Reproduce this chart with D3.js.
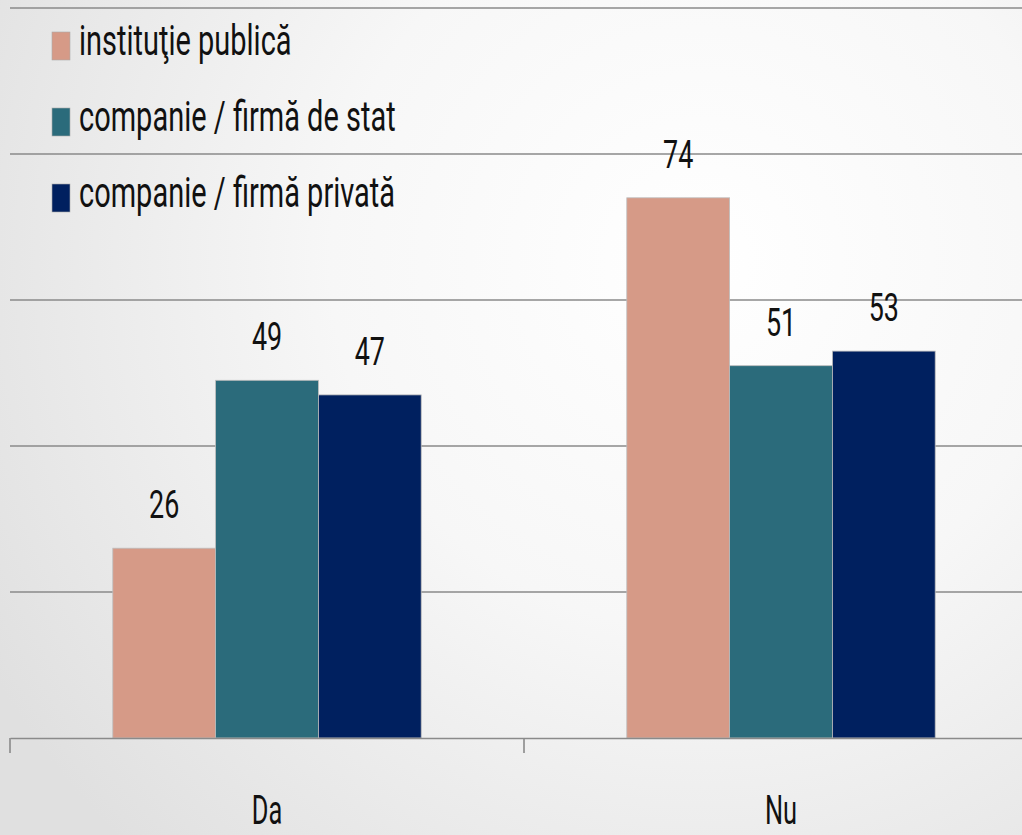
<!DOCTYPE html>
<html>
<head>
<meta charset="utf-8">
<script src="https://cdn.jsdelivr.net/npm/d3@7"></script>
<style>
  html, body { margin: 0; padding: 0; overflow: hidden; }
  #chart { display: block; width: 1022px; height: 835px; }
  text { font-family: Roboto, "Noto Sans", sans-serif; fill: #111; }
</style>
</head>
<body>
<svg id="chart" width="1022" height="835"></svg>
<script>
var categories = ["Da", "Nu"];
var seriesNames = ["instituţie publică", "companie / firmă de stat", "companie / firmă privată"];
var seriesValues = [
  [26, 74],
  [49, 51],
  [47, 53]
];
var yTicks = [0, 20, 40, 60, 80, 100];

var color = ["#D69A87", "#2B6B7B", "#00205F"];

// condensed look: squeeze the glyphs horizontally
var squeeze = 0.69;

var svg = d3.select("#chart"),
    margin = {top: 8, right: -16, bottom: 97, left: 10},
    width = 1022 - margin.left - margin.right,
    height = 835 - margin.top - margin.bottom;

// background
var defs = svg.append("defs");
var grad = defs.append("radialGradient")
    .attr("id", "bg")
    .attr("gradientUnits", "userSpaceOnUse")
    .attr("cx", 700).attr("cy", 260).attr("r", 820);
grad.append("stop").attr("offset", "0%").attr("stop-color", "#ffffff");
grad.append("stop").attr("offset", "45%").attr("stop-color", "#f7f7f7");
grad.append("stop").attr("offset", "100%").attr("stop-color", "#e0e0e0");
svg.append("rect").attr("width", 1022).attr("height", 835).attr("fill", "url(#bg)");

var g = svg.append("g").attr("transform", "translate(" + margin.left + "," + margin.top + ")");

var x0 = d3.scaleBand().domain(categories).range([0, width]).padding(0);
var x1 = d3.scaleBand().domain(d3.range(seriesNames.length))
    .range([x0.bandwidth() * 0.2, x0.bandwidth() * 0.8]).padding(0);
var y = d3.scaleLinear().domain([0, 100]).range([height, 0]);

// gridlines
g.append("g")
  .selectAll("line")
  .data(yTicks.slice(1))
  .enter().append("line")
    .attr("x1", 0)
    .attr("x2", width)
    .attr("y1", function(d) { return y(d); })
    .attr("y2", function(d) { return y(d); })
    .attr("stroke", "#8a8a8a")
    .attr("stroke-width", 1.6);

// bars
var group = g.selectAll(".cat")
  .data(categories)
  .enter().append("g")
    .attr("class", "cat")
    .attr("transform", function(d) { return "translate(" + x0(d) + ",0)"; });

function cells(d, i) {
  return seriesValues.map(function(s, k) { return {k: k, v: s[i]}; });
}

group.selectAll("rect")
  .data(cells)
  .enter().append("rect")
    .attr("x", function(d) { return x1(d.k); })
    .attr("width", x1.bandwidth())
    .attr("y", function(d) { return y(d.v); })
    .attr("height", function(d) { return height - y(d.v); })
    .attr("fill", function(d) { return color[d.k]; })
    .attr("stroke", "#bdbdbd")
    .attr("stroke-width", 0.8);

group.selectAll(".val")
  .data(cells)
  .enter().append("text")
    .attr("class", "val")
    .attr("transform", function(d) {
      return "translate(" + (x1(d.k) + x1.bandwidth() / 2) + "," + (y(d.v) - 30) + ") scale(" + squeeze + ",1)";
    })
    .attr("text-anchor", "middle")
    .attr("font-size", 39)
    .text(function(d) { return d.v; });

// x axis
var xAxis = d3.axisBottom(x0).tickSize(0).tickFormat("");
var ax = g.append("g")
    .attr("transform", "translate(0," + height + ")")
    .call(xAxis);
ax.select(".domain").attr("stroke", "#8a8a8a").attr("stroke-width", 1.6);
ax.selectAll(".tick").remove();

ax.selectAll(".sep")
  .data(categories)
  .enter().append("line")
    .attr("x1", function(d) { return x0(d); })
    .attr("x2", function(d) { return x0(d); })
    .attr("y1", 0)
    .attr("y2", 15)
    .attr("stroke", "#8a8a8a")
    .attr("stroke-width", 1.6);

ax.selectAll(".lbl")
  .data(categories)
  .enter().append("text")
    .attr("transform", function(d) {
      return "translate(" + (x0(d) + x0.bandwidth() / 2) + ",86) scale(" + (squeeze * 0.92) + ",1)";
    })
    .attr("text-anchor", "middle")
    .attr("font-size", 40)
    .text(function(d) { return d; });

// legend
var legend = svg.append("g").attr("transform", "translate(52,32)");
var item = legend.selectAll(".item")
  .data(seriesNames)
  .enter().append("g")
    .attr("class", "item")
    .attr("transform", function(d, i) { return "translate(0," + (i * 76) + ")"; });

item.append("rect")
    .attr("width", 18)
    .attr("height", 28)
    .attr("fill", function(d, i) { return color[i]; })
    .attr("stroke", "#aaa")
    .attr("stroke-width", 0.6);

item.append("text")
    .attr("transform", "translate(27,23) scale(" + squeeze + ",1)")
    .attr("font-size", 42)
    .text(function(d) { return d; });
</script>
</body>
</html>
